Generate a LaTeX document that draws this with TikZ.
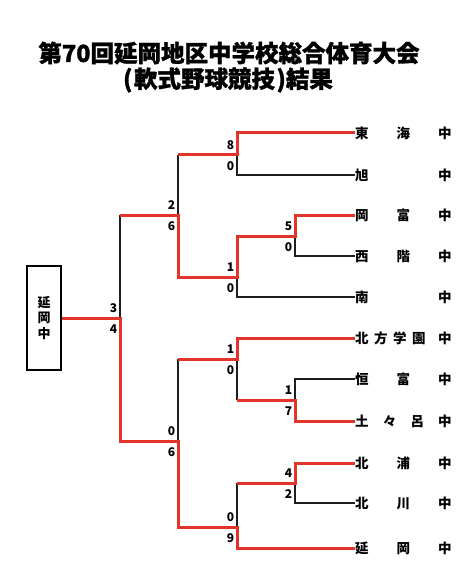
\documentclass[tikz,border=0pt]{standalone}
\usepackage{fontspec}
\newfontfamily\jp{Noto Sans CJK JP}
\newfontfamily\jpblack{Noto Sans CJK JP Black}[FakeBold=1.2]
\definecolor{wred}{RGB}{226,52,40}
\definecolor{lgray}{RGB}{30,30,30}
\begin{document}
\begin{tikzpicture}[x=1pt,y=-1pt,
  win/.style={draw=wred, line width=3pt, line join=miter},
  loss/.style={draw=lgray, line width=1.2pt},
  team/.style={anchor=west, inner sep=0pt, font=\jp\bfseries\fontsize{13.5}{16}\selectfont},
  sc/.style={anchor=east, inner sep=0pt, font=\jp\bfseries\fontsize{12}{14}\selectfont},
  ttl/.style={inner sep=0pt, font=\jpblack\fontsize{23.5}{28}\selectfont}]
\useasboundingbox[fill=white] (0,0) rectangle (474,588);

% title
\node[ttl] (title1) at (229,53) {第70回延岡地区中学校総合体育大会};
\node[ttl] (title2) at (228,80) {(\hspace{1.5pt}軟式野球競技\hspace{1.5pt})結果};

% teams
\node[team] (t1) at (355,133) {\hbox to 96.5pt{東\hfil 海\hfil 中}};
\node[team] (t2) at (355,175) {\hbox to 96.5pt{旭\hfil 中}};
\node[team] (t3) at (355,215) {\hbox to 96.5pt{岡\hfil 富\hfil 中}};
\node[team] (t4) at (355,256) {\hbox to 96.5pt{西\hfil 階\hfil 中}};
\node[team] (t5) at (355,297) {\hbox to 96.5pt{南\hfil 中}};
\node[team] (t6) at (355,338) {\hbox to 96.5pt{北\hskip5.5pt 方\hskip5.5pt 学\hskip5.5pt 園\hfil 中}};
\node[team] (t7) at (355,379) {\hbox to 96.5pt{恒\hfil 富\hfil 中}};
\node[team] (t8) at (355,421) {\hbox to 96.5pt{土\hfil 々\hfil 呂\hfil 中}};
\node[team] (t9) at (355,463) {\hbox to 96.5pt{北\hfil 浦\hfil 中}};
\node[team] (t10) at (355,503) {\hbox to 96.5pt{北\hfil 川\hfil 中}};
\node[team] (t11) at (355,548) {\hbox to 96.5pt{延\hfil 岡\hfil 中}};

% champion box
\node[draw=black, line width=2pt, minimum width=34pt, minimum height=104pt, inner sep=0pt,
      align=center, font=\jp\bfseries\fontsize{13}{15.5}\selectfont] (champ) at (44,318) {延\\岡\\中};

% junctions
\coordinate (j1a) at (295,236);
\coordinate (j1b) at (295,400);
\coordinate (j1c) at (295,483);
\coordinate (j2a) at (237,155);
\coordinate (j2b) at (237,277);
\coordinate (j2c) at (237,359);
\coordinate (j2d) at (237,527);
\coordinate (j3a) at (178,215);
\coordinate (j3b) at (178,441);
\coordinate (fin) at (120,318);

% losing branches
\draw[loss] (j1a) |- (t4.west);
\draw[loss] (j1b) |- (t7.west);
\draw[loss] (j1c) |- (t10.west);
\draw[loss] (j2a) |- (t2.west);
\draw[loss] (j2b) |- (t5.west);
\draw[loss] (j2c) -- (j2c |- j1b);
\draw[loss] (j2d) -- (j2d |- j1c);
\draw[loss] (j3a) -- (j3a |- j2a);
\draw[loss] (j3b) -- (j3b |- j2c);
\draw[loss] (fin) -- (fin |- j3a);

% winning branches
\draw[win] (j1a -| j2b) -- (j1a) |- (t3.west);
\draw[win] (j1b -| j2c) -- (j1b) |- (t8.west);
\draw[win] (j1c -| j2d) -- (j1c) |- (t9.west);
\draw[win] (j2a -| j3a) -- (j2a) |- (t1.west);
\draw[win] (j2b -| j3a) -- (j2b) |- (j1a);
\draw[win] (j2c -| j3b) -- (j2c) |- (t6.west);
\draw[win] (j2d -| j3b) -- (j2d) |- (t11.west);
\draw[win] (j3a -| fin) -- (j3a) |- (j2b);
\draw[win] (j3b -| fin) -- (j3b) |- (j2d);
\draw[win] (champ.east |- fin) -- (fin) |- (j3b);

% scores
\node[sc] (s1a) at ([shift={(-2.5,-9.5)}]j1a) {5};
\node[sc] (s1a') at ([shift={(-2.5,11)}]j1a) {0};
\node[sc] (s1b) at ([shift={(-2.5,-9.5)}]j1b) {1};
\node[sc] (s1b') at ([shift={(-2.5,11)}]j1b) {7};
\node[sc] (s1c) at ([shift={(-2.5,-9.5)}]j1c) {4};
\node[sc] (s1c') at ([shift={(-2.5,11)}]j1c) {2};
\node[sc] (s2a) at ([shift={(-2.5,-9.5)}]j2a) {8};
\node[sc] (s2a') at ([shift={(-2.5,11)}]j2a) {0};
\node[sc] (s2b) at ([shift={(-2.5,-9.5)}]j2b) {1};
\node[sc] (s2b') at ([shift={(-2.5,11)}]j2b) {0};
\node[sc] (s2c) at ([shift={(-2.5,-9.5)}]j2c) {1};
\node[sc] (s2c') at ([shift={(-2.5,11)}]j2c) {0};
\node[sc] (s2d) at ([shift={(-2.5,-9.5)}]j2d) {0};
\node[sc] (s2d') at ([shift={(-2.5,11)}]j2d) {9};
\node[sc] (s3a) at ([shift={(-2.5,-9.5)}]j3a) {2};
\node[sc] (s3a') at ([shift={(-2.5,11)}]j3a) {6};
\node[sc] (s3b) at ([shift={(-2.5,-9.5)}]j3b) {0};
\node[sc] (s3b') at ([shift={(-2.5,11)}]j3b) {6};
\node[sc] (sf) at ([shift={(-2.5,-9.5)}]fin) {3};
\node[sc] (sf') at ([shift={(-2.5,11)}]fin) {4};
\end{tikzpicture}
\end{document}
